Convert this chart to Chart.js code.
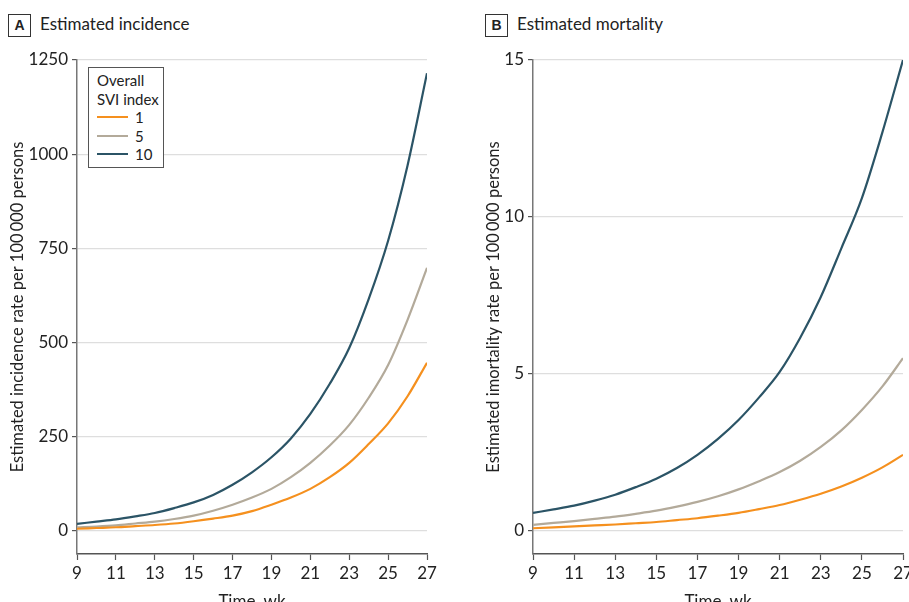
<!DOCTYPE html>
<html><head><meta charset="utf-8">
<script src="https://cdn.jsdelivr.net/npm/chart.js@4.4.0/dist/chart.umd.min.js"></script>
<style>
html,body{margin:0;padding:0;width:909px;height:602px;overflow:hidden;background:#fff;font-family:Lato,"Noto Sans",sans-serif;color:#222}
.wrap{position:absolute;top:0;height:612px}
.ttl{position:absolute;top:13px;font-size:17px;white-space:nowrap}
.ttl .b{display:inline-block;border:1px solid #333;width:21px;height:21px;line-height:21px;text-align:center;font-weight:bold;font-size:14px;margin-right:9px;font-family:"Liberation Sans","DejaVu Sans",sans-serif}
.leg{position:absolute;left:88px;top:67px;width:76px;height:101px;border:1px solid #555;background:#fff;font-size:15px;line-height:18.5px;box-sizing:border-box;padding:3px 0 0 8px;white-space:nowrap}
.leg .it{display:flex;align-items:center}
.leg .ln{display:inline-block;width:31px;height:2px;margin-right:7px}
</style></head>
<body>
<div class="ttl" style="left:8px"><span class="b">A</span>Estimated incidence</div>
<div class="ttl" style="left:485px"><span class="b">B</span>Estimated mortality</div>
<div class="wrap" style="left:0;width:440px"><canvas id="ca"></canvas></div>
<div class="wrap" style="left:470px;width:439px"><canvas id="cb"></canvas></div>
<div class="leg" id="leg"></div>
<script>
const weeks = [9,10,11,12,13,14,15,16,17,18,19,20,21,22,23,24,25,26,27];
const seriesNames = ["1","5","10"];
const seriesColors = ["#f5901e","#b3aa9a","#2b5466"];
const legendTitle = ["Overall","SVI index"];
// Panel A: estimated incidence per 100000
const incidence1  = [5,7,9,12,15,19,25,32,40,52,69,88,111,142,180,230,285,357,446];
const incidence5  = [9,11,14,19,24,31,40,53,69,88,111,142,180,226,281,353,440,560,698];
const incidence10 = [18,24,30,38,47,60,75,95,122,155,195,245,310,390,485,615,770,970,1215];
// Panel B: estimated mortality per 100000
const mortality1  = [0.08,0.11,0.14,0.17,0.2,0.24,0.28,0.34,0.40,0.48,0.57,0.69,0.82,0.99,1.18,1.41,1.69,2.02,2.42];
const mortality5  = [0.19,0.25,0.31,0.38,0.45,0.54,0.64,0.77,0.92,1.10,1.32,1.58,1.87,2.23,2.67,3.2,3.85,4.6,5.5];
const mortality10 = [0.57,0.68,0.8,0.96,1.15,1.39,1.66,2.0,2.42,2.93,3.53,4.25,5.06,6.15,7.45,9.0,10.6,12.7,15.0];
const yTicksA = [0,250,500,750,1000,1250];
const yTicksB = [0,5,10,15];
const xTicks = [9,11,13,15,17,19,21,23,25,27];

const FONT = 'Lato,"Noto Sans",sans-serif';
Chart.defaults.font.family = FONT;
Chart.defaults.color = '#222';

document.getElementById('leg').innerHTML =
  legendTitle.map(t=>'<div>'+t+'</div>').join('') +
  seriesNames.map((n,i)=>'<div class="it"><span class="ln" style="background:'+seriesColors[i]+'"></span>'+n+'</div>').join('');

function make(id, arrs, yTicks, ymin, ymax, yTitle, yW, padR, titlePad){
  const ds = arrs.map((a,i)=>({label:seriesNames[i], data:weeks.map((w,j)=>({x:w,y:a[j]})),
    borderColor:seriesColors[i], borderWidth:2.2, pointRadius:0, cubicInterpolationMode:'monotone', fill:false}));
  return new Chart(document.getElementById(id), {
    type:'line',
    data:{datasets:ds},
    options:{
      responsive:true, maintainAspectRatio:false, animation:false,
      layout:{padding:{top:60,right:padR,left:0,bottom:0}},
      plugins:{legend:{display:false},tooltip:{enabled:false}},
      scales:{
        x:{type:'linear',min:9,max:27,
          afterBuildTicks:s=>{s.ticks=xTicks.map(v=>({value:v}));},
          afterFit:s=>{s.height=58;s.paddingLeft=0;s.paddingRight=0;},
          grid:{drawOnChartArea:false,drawTicks:true,tickLength:6,tickColor:'#555',tickWidth:1.2},
          border:{color:'#555',width:1.5},
          ticks:{font:{size:17},color:'#222',padding:3,maxRotation:0,callback:v=>String(v)},
          title:{display:true,text:'Time, wk',font:{size:17},color:'#222',padding:{top:0,bottom:0}}
        },
        y:{type:'linear',min:ymin,max:ymax,
          afterBuildTicks:s=>{s.ticks=yTicks.map(v=>({value:v}));},
          afterFit:s=>{s.width=yW;},
          grid:{color:'#dedede',lineWidth:1.2,tickColor:'#555',tickLength:5,tickWidth:1.2},
          border:{color:'#777',width:1.5},
          ticks:{font:{size:17},color:'#222',padding:4,callback:v=>String(v)},
          title:{display:true,text:yTitle,font:{size:16.5},color:'#222',padding:{top:titlePad,bottom:0}}
        }
      }
    }
  });
}
make('ca',[incidence1,incidence5,incidence10],yTicksA,-62,1250,'Estimated incidence rate per 100\u2009000 persons',77,13,8);
make('cb',[mortality1,mortality5,mortality10],yTicksB,-0.74,15,'Estimated imortality rate per 100\u2009000 persons',63,6,14);
</script>
</body></html>
